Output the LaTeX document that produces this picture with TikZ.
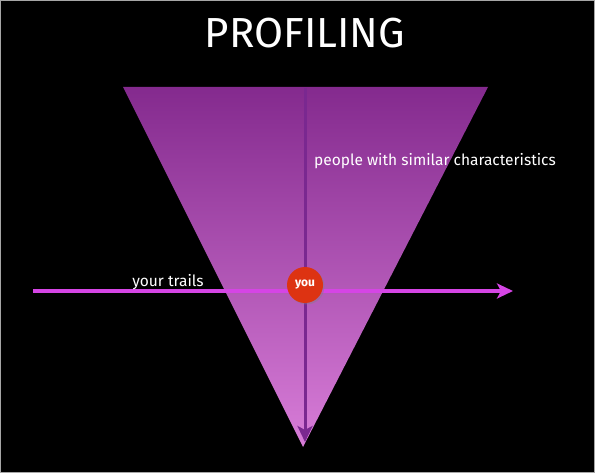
\documentclass[tikz,border=0pt]{standalone}
\usepackage{fontspec}
\setmainfont{Fira Sans}
\usetikzlibrary{arrows.meta,shadows}
\definecolor{tritop}{HTML}{842A8E}
\definecolor{tribot}{HTML}{D87DD8}
\definecolor{vline}{HTML}{7A2890}
\definecolor{hline}{HTML}{D545E5}
\definecolor{youred}{HTML}{DD3312}
\tikzset{
  lbl/.style={text=white, font=\fontsize{15.5}{18}\selectfont, inner sep=0pt},
  ttl/.style={text=white, font=\fontsize{42}{46}\selectfont, inner sep=0pt},
  youcirc/.style={circle, fill=youred, minimum size=36pt, inner sep=0pt, text=white,
    font=\fontsize{12}{13}\selectfont\bfseries, drop shadow={shadow xshift=1.5pt, shadow yshift=-1.5pt, opacity=0.4}},
}
\begin{document}
\begin{tikzpicture}[x=1pt,y=-1pt]
\fill[black] (0,0) rectangle (595,473);
\useasboundingbox (0,0) rectangle (595,473);
\draw[gray!70, line width=1pt] (0.5,0.5) rectangle (594.5,472.5);
\node[ttl] (title) at (305,33) {PROFILING};
\coordinate (tl) at (123,87);
\coordinate (tr) at (488,87);
\coordinate (ap) at (303,447);
\shade[top color=tritop, bottom color=tribot] (tl) -- (tr) -- (ap) -- cycle;
\coordinate (vtop) at (305,88);
\coordinate (vbot) at (305,442);
\draw[vline, line width=3pt, -{Stealth[length=16pt,width=15pt,inset=4pt]}] (vtop) -- (vbot);
\coordinate (hl) at (33,291);
\coordinate (hr) at (513,291);
\draw[hline, line width=3.5pt, -{Stealth[length=16pt,width=15pt,inset=4pt]}] (hl) -- (hr);
\node[youcirc] (you) at (305,285) {you};
\node[lbl] (trails) at (168,282) {your trails};
\node[lbl, anchor=west] (people) at (314,161) {people with similar characteristics};
\end{tikzpicture}
\end{document}
